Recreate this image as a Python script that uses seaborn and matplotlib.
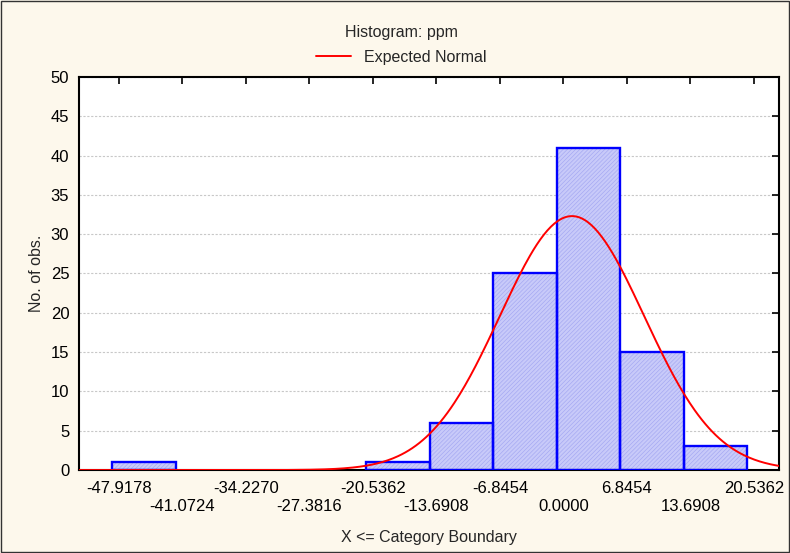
import numpy as np
import matplotlib
matplotlib.use("Agg")
import matplotlib.pyplot as plt
import pandas as pd
import seaborn as sns

# category boundaries (x tick labels) and counts between them
boundaries = [-47.9178, -41.0724, -34.2270, -27.3816, -20.5362, -13.6908,
              -6.8454, 0.0000, 6.8454, 13.6908, 20.5362]
counts = [1, 0, 0, 0, 1, 6, 25, 41, 15, 3]
n_obs = 92
bin_width = 6.8454
# expected normal parameters
mu = 0.92
sigma = 7.78

sns.set_theme(style="white")
plt.rcParams['font.family'] = ['Liberation Sans', 'DejaVu Sans']
plt.rcParams['hatch.linewidth'] = 0.45

bg = '#fdf8ec'
fig = plt.figure(figsize=(7.9, 5.53), dpi=100, facecolor=bg)
ax = fig.add_axes([0.1, 0.15, 0.886, 0.711])
ax.set_facecolor('white')

# bars are drawn slightly left of the boundaries, as in the original
edges = [b - 0.75 for b in boundaries]
df = pd.DataFrame({'x': [(edges[i] + edges[i + 1]) / 2 for i in range(len(counts))],
                   'n': counts})

sns.histplot(data=df, x='x', weights='n', bins=edges, ax=ax, color='#c8caf9',
             alpha=1, edgecolor='#a3a6f2', linewidth=0, hatch='////////', zorder=2)
sns.histplot(data=df, x='x', weights='n', bins=edges, ax=ax, fill=False,
             color='#0000ff', edgecolor='#0000ff', linewidth=1.7, zorder=3)
for p in ax.patches:
    if p.get_height() == 0:
        p.set_visible(False)

xlim = (-52.23, 23.23)
xs = np.linspace(xlim[0], xlim[1], 400)
ys = n_obs * bin_width * np.exp(-0.5 * ((xs - mu) / sigma) ** 2) / (sigma * np.sqrt(2 * np.pi))
sns.lineplot(x=xs, y=ys, ax=ax, color='#ff0000', linewidth=1.4, label='Expected Normal', zorder=4)

ax.set_xlim(xlim)
ax.set_ylim(0, 50)
ax.set_yticks(range(0, 51, 5))
ax.set_xticks(boundaries)
ax.set_xticklabels([('' if i % 2 == 0 else '\n') + '%.4f' % b for i, b in enumerate(boundaries)])
ax.yaxis.grid(True, color='#c8c8c8', linestyle=(0, (2, 1.5)), linewidth=0.8)
ax.set_axisbelow(True)
ax.tick_params(direction='in', length=5, width=1.2, top=True, right=True,
               labelsize=12, colors='black', pad=7)
ax.tick_params(axis='x', pad=8)
for s in ax.spines.values():
    s.set_color('black')
    s.set_linewidth(1.5)

ax.set_xlabel('X <= Category Boundary', fontsize=11.5, labelpad=12)
ax.set_ylabel('No. of obs.', fontsize=11.5, labelpad=5)

ax.get_legend().remove()
fig.legend(loc='center', bbox_to_anchor=(0.508, 0.896), frameon=False,
           fontsize=11.5, handlelength=2.2, handletextpad=0.8)
fig.text(0.508, 0.942, 'Histogram: ppm', ha='center', va='center', fontsize=11.5)

fig.patches.append(plt.Rectangle((0.001, 0.001), 0.998, 0.998, transform=fig.transFigure,
                                 fill=False, edgecolor='#333333', linewidth=1))

fig.savefig('out.png', dpi=100, facecolor=bg)
